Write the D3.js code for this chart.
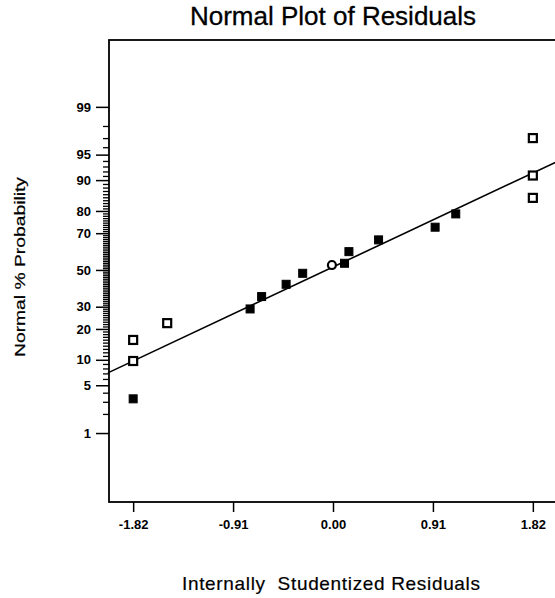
<!DOCTYPE html>
<html><head><meta charset="utf-8">
<script src="https://cdn.jsdelivr.net/npm/d3@7"></script>
<style>
html,body{margin:0;padding:0;background:#fff;}
svg{display:block;font-family:"Liberation Sans",Arial,sans-serif;}
</style></head>
<body><svg id="chart" width="555" height="598"></svg>
<script>
// ---- data ----
const residuals   = [-1.82,-1.82,-1.82,-1.51,-0.755,-0.65,-0.427,-0.276,-0.01,0.105,0.145,0.415,0.93,1.118,1.82,1.82,1.82];
const probability = [3.3,9.7,15.9,22.4,28.9,35.2,41.9,48.1,52.8,53.8,60.3,66.6,72.9,78.8,84.8,91.1,97.0];
const markerType  = ["filled","open","open","open","filled","filled","filled","filled","circle","filled","filled","filled","filled","filled","open","open","open"];
const xTickValues = [-1.82,-0.91,0.00,0.91,1.82];
const xTickLabels = ["-1.82","-0.91","0.00","0.91","1.82"];
const yMajorTicks = [1,5,10,20,30,50,70,80,90,95,99];
const yMinorTicks = d3.range(1,100);
const fitLineX    = [-2.05, 2.03];
const fitLineP    = [7.1, 93.8];

// ---- inverse normal CDF (probability axis transform) ----
function probit(p){
  const a=[-3.969683028665376e+01,2.209460984245205e+02,-2.759285104469687e+02,1.383577518672690e+02,-3.066479806614716e+01,2.506628277459239e+00];
  const b=[-5.447609879822406e+01,1.615858368580409e+02,-1.556989798598866e+02,6.680131188771972e+01,-1.328068155922801e+01];
  const c=[-7.784894002430293e-03,-3.223964580411365e-01,-2.400758276802846e+00,-2.549732539343734e+00,4.374664141464968e+00,2.938163982698783e+00];
  const d=[7.784695709041462e-03,3.224671290700398e-01,2.445134137142996e+00,3.754408383501113e+00];
  const pl=0.02425, ph=1-pl; let q,r;
  if(p<pl){q=Math.sqrt(-2*Math.log(p));return (((((c[0]*q+c[1])*q+c[2])*q+c[3])*q+c[4])*q+c[5])/((((d[0]*q+d[1])*q+d[2])*q+d[3])*q+1);}
  if(p<=ph){q=p-0.5;r=q*q;return (((((a[0]*r+a[1])*r+a[2])*r+a[3])*r+a[4])*r+a[5])*q/(((((b[0]*r+b[1])*r+b[2])*r+b[3])*r+b[4])*r+1);}
  q=Math.sqrt(-2*Math.log(1-p));return -(((((c[0]*q+c[1])*q+c[2])*q+c[3])*q+c[4])*q+c[5])/((((d[0]*q+d[1])*q+d[2])*q+d[3])*q+1);
}

const L=109, R=557, T=40, B=502;
const svg=d3.select("#chart");
const x=d3.scaleLinear().domain([-2.04,2.04]).range([L,R]);
const yz=d3.scaleLinear().domain([-3.31,3.28]).range([B,T]);
function y(p){return yz(probit(p/100));}
y.copy=()=>y; y.range=()=>[B,T]; y.domain=()=>[0.05,99.95];

// title
svg.append("text").attr("x",333).attr("y",25).attr("text-anchor","middle")
  .attr("font-size",26).attr("fill","#000").attr("stroke","#000").attr("stroke-width",0.3)
  .text("Normal Plot of Residuals");

// frame
svg.append("rect").attr("x",L).attr("y",T).attr("width",R-L).attr("height",B-T)
  .attr("fill","none").attr("stroke","#000").attr("stroke-width",1.8);

// y axis minor
svg.append("g").attr("transform",`translate(${L},0)`)
  .call(d3.axisLeft(y).tickValues(yMinorTicks.filter(v=>!yMajorTicks.includes(v))).tickSize(6).tickFormat(""))
  .call(g=>g.select(".domain").remove())
  .call(g=>g.selectAll("line").attr("stroke","#000").attr("stroke-width",1.3));
// y axis major
svg.append("g").attr("transform",`translate(${L},0)`)
  .call(d3.axisLeft(y).tickValues(yMajorTicks).tickSize(13).tickPadding(5).tickFormat(d=>String(d)))
  .call(g=>g.select(".domain").remove())
  .call(g=>g.selectAll("line").attr("stroke","#000").attr("stroke-width",1.5))
  .call(g=>g.selectAll("text").attr("font-size",13).attr("font-weight","bold")
     .attr("font-family","'Liberation Sans',Arial,sans-serif").attr("fill","#000"));

// x axis
svg.append("g").attr("transform",`translate(0,${B})`)
  .call(d3.axisBottom(x).tickValues(xTickValues).tickSize(10).tickPadding(8)
     .tickFormat((d,i)=>xTickLabels[i]))
  .call(g=>g.select(".domain").remove())
  .call(g=>g.selectAll("line").attr("stroke","#000").attr("stroke-width",1.5))
  .call(g=>g.selectAll("text").attr("font-size",13).attr("font-weight","bold")
     .attr("font-family","'Liberation Sans',Arial,sans-serif").attr("fill","#000"));

// axis titles
svg.append("text").attr("transform","translate(25,267) rotate(-90)").attr("text-anchor","middle")
  .attr("font-size",14).attr("textLength",180).attr("lengthAdjust","spacingAndGlyphs")
  .attr("fill","#000").attr("stroke","#000").attr("stroke-width",0.2).text("Normal % Probability");
svg.append("text").attr("x",331).attr("y",590).attr("text-anchor","middle")
  .attr("font-size",19).attr("textLength",298).attr("lengthAdjust","spacing")
  .attr("fill","#000").attr("stroke","#000").attr("stroke-width",0.2)
  .attr("xml:space","preserve").text("Internally  Studentized Residuals");

// fit line
const plot=svg.append("g");
plot.append("path").datum(d3.zip(fitLineX,fitLineP))
  .attr("d",d3.line().x(d=>x(d[0])).y(d=>y(d[1])))
  .attr("fill","none").attr("stroke","#000").attr("stroke-width",1.6);

// points
const pts=d3.zip(residuals,probability,markerType);
const s=8;
plot.selectAll("rect.pt").data(pts.filter(d=>d[2]!=="circle")).join("rect")
  .attr("class","pt")
  .attr("x",d=>x(d[0])-s/2).attr("y",d=>y(d[1])-s/2).attr("width",s).attr("height",s)
  .attr("fill",d=>d[2]==="filled"?"#000":"#fff")
  .attr("stroke","#000").attr("stroke-width",d=>d[2]==="filled"?1:2.2);
plot.selectAll("circle.pt").data(pts.filter(d=>d[2]==="circle")).join("circle")
  .attr("class","pt")
  .attr("cx",d=>x(d[0])).attr("cy",d=>y(d[1])).attr("r",4)
  .attr("fill","#fff").attr("stroke","#000").attr("stroke-width",2.2);
</script></body></html>
